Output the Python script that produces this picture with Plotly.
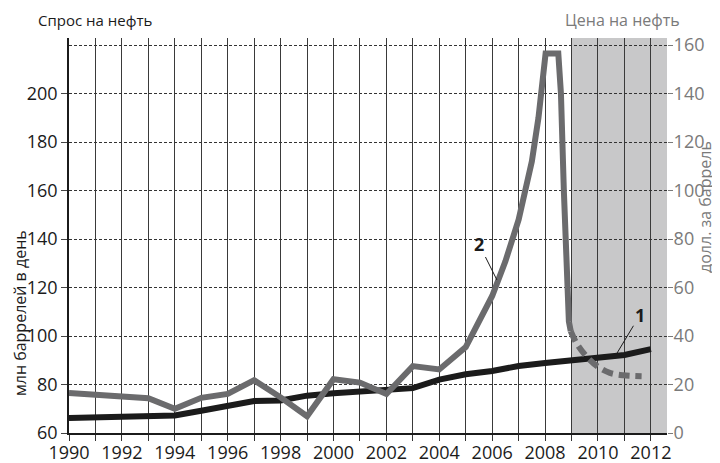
import plotly.graph_objects as go

# ---- data ----
years = list(range(1990, 2013))
demand = [66.2, 66.4, 66.6, 66.9, 67.2, 69.2, 71.2, 73.2, 73.4, 75.4, 76.4, 77.2,
          77.9, 78.5, 82.0, 84.2, 85.6, 87.6, 88.9, 89.9, 91.2, 92.2, 94.6]

price_x = [1990, 1991, 1992, 1993, 1994, 1995, 1996, 1997, 1998, 1999, 2000, 2001,
           2002, 2003, 2004, 2005, 2006, 2006.5, 2007, 2007.5, 2007.75, 2008.02,
           2008.5, 2008.6, 2008.71, 2008.81, 2008.9, 2008.97]
price = [16.5, 15.8, 15.1, 14.3, 10.0, 14.5, 16.1, 21.8, 14.7, 6.9, 22.2, 20.8,
         16.1, 27.6, 26.2, 35.4, 56.5, 70.8, 88.0, 112.0, 130.0, 156.5,
         156.5, 140.0, 100.0, 60.0, 46.0, 42.0]

forecast_x = [2008.97, 2009.19, 2009.57, 2010.0, 2010.45, 2010.96, 2011.65]
forecast = [42.0, 37.0, 31.5, 27.3, 24.8, 23.8, 23.4]

left_ticks = [60, 80, 100, 120, 140, 160, 180, 200]
right_ticks = [0, 20, 40, 60, 80, 100, 120, 140, 160]
x_ticks = list(range(1990, 2013, 2))

x_range = [1990, 2012.61]
y_range = [60, 222.9]
y2_range = [0, 162.9]
shade_start = 2009

FONT = "Open Sans"
BLACK = "#1b1b1b"
GRAY_LINE = "#6b6b6d"
GRAY_TEXT = "#7a7a7a"
PLOT_W = 598  # plot-area width in px

fig = go.Figure()

fig.add_trace(go.Scatter(x=years, y=demand, mode="lines", yaxis="y",
                         line=dict(color=BLACK, width=6), showlegend=False,
                         hoverinfo="skip"))
fig.add_trace(go.Scatter(x=price_x, y=price, mode="lines", yaxis="y2",
                         line=dict(color=GRAY_LINE, width=6), showlegend=False,
                         hoverinfo="skip"))
fig.add_trace(go.Scatter(x=forecast_x, y=forecast, mode="lines", yaxis="y2",
                         line=dict(color=GRAY_LINE, width=6, dash="11px,6px",
                                   shape="spline"),
                         showlegend=False, hoverinfo="skip"))

fig.add_shape(type="rect", xref="x", yref="paper", x0=shade_start, x1=x_range[1],
              y0=0, y1=1, fillcolor="#c8c8c9", line=dict(width=0), layer="below")

fig.update_layout(
    width=712, height=455,
    margin=dict(l=61, r=53, t=30, b=30, autoexpand=False),
    paper_bgcolor="white", plot_bgcolor="white",
    font=dict(family=FONT, size=18, color=BLACK),
    xaxis=dict(range=x_range, tickvals=x_ticks, ticktext=[str(v) for v in x_ticks],
               showgrid=True, gridcolor="#3a3a3a", gridwidth=1,
               ticks="outside", ticklen=6, tickcolor="#333", tickwidth=1,
               ticklabelstandoff=-3,
               showline=True, linecolor=BLACK, linewidth=1.5,
               minor=dict(dtick=1, tick0=1990, showgrid=True, gridcolor="#3a3a3a",
                          gridwidth=1, ticks="outside", ticklen=6, tickcolor="#333"),
               tickfont=dict(size=18, color=BLACK), zeroline=False, fixedrange=True,
               automargin=False),
    yaxis=dict(range=y_range, tickvals=left_ticks, showgrid=False,
               ticks="outside", ticklen=6, tickcolor="#444", tickwidth=1,
               showline=True, linecolor=BLACK, linewidth=1.5,
               tickfont=dict(size=18, color=BLACK), zeroline=False, automargin=False),
    yaxis2=dict(range=y2_range, tickvals=right_ticks, overlaying="y", side="right",
                showgrid=True, gridcolor="#333", gridwidth=1, griddash="3px,2px",
                ticks="outside", ticklen=5, tickcolor=GRAY_TEXT,
                ticklabelstandoff=-3,
                showline=False, zeroline=False, automargin=False,
                tickfont=dict(size=18, color=GRAY_TEXT)),
)

annotations = [
    dict(text="Спрос на нефть", xref="paper", yref="paper", x=-33/PLOT_W, y=1,
         yshift=18, xanchor="left", yanchor="middle", showarrow=False,
         font=dict(size=15, color=BLACK)),
    dict(text="Цена на нефть", xref="paper", yref="paper", x=1 + 15/PLOT_W, y=1,
         yshift=18, xanchor="right", yanchor="middle", showarrow=False,
         font=dict(size=16, color=GRAY_TEXT)),
    dict(text="млн баррелей в день", xref="paper", yref="paper", x=0, xshift=-49,
         y=(433 - 313) / 395, textangle=-90, xanchor="center", yanchor="middle",
         showarrow=False, font=dict(size=16, color=BLACK)),
    dict(text="долл. за баррель", xref="paper", yref="paper", x=1, xshift=38,
         y=(433 - 207) / 395, textangle=-90, xanchor="center", yanchor="middle",
         showarrow=False, font=dict(size=16, color=GRAY_TEXT)),
    dict(text="<b>2</b>", x=2006.18, y=123.1, xref="x", yref="y", ax=-18, ay=-36,
         showarrow=True, arrowhead=0, arrowwidth=1, arrowcolor=BLACK,
         font=dict(size=18, color=BLACK)),
    dict(text="<b>1</b>", x=2010.68, y=92.2, xref="x", yref="y", ax=24, ay=-40,
         showarrow=True, arrowhead=0, arrowwidth=1, arrowcolor=BLACK,
         font=dict(size=18, color=BLACK)),
]
fig.update_layout(annotations=annotations)

fig.write_html("out.html")
